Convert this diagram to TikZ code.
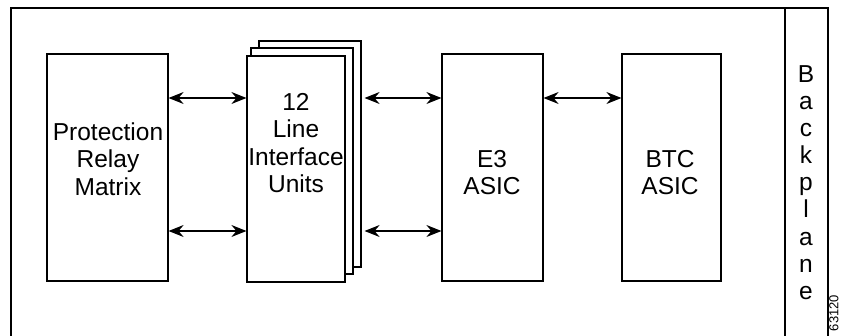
\documentclass[tikz,border=0pt]{standalone}
\usepackage{fontspec}
\setmainfont{Liberation Sans}
\usetikzlibrary{arrows.meta}
\begin{document}
\begin{tikzpicture}[x=1pt,y=-1pt,
  frame/.style={draw=black,line width=1.2pt},
  block/.style={frame,fill=white,rectangle,inner sep=0pt},
  lbl/.style={align=center,font=\fontsize{24.5}{27.4}\selectfont,inner sep=0pt},
  biarrow/.style={line width=1.2pt,{Stealth[length=15pt,width=12pt,inset=5pt]}-{Stealth[length=15pt,width=12pt,inset=5pt]}}]
\useasboundingbox (0,0) rectangle (841,335);

% enclosure with the backplane strip on the right
\draw[frame] (11,345) -- (11,8) -- (828,8) -- (828,345);
\draw[frame] (785,8) -- (785,345);

% functional blocks
\node[block,minimum width=121pt,minimum height=227pt] (prm) at (107.5,167.5) {};
\node[block,minimum width=102pt,minimum height=226pt] (liuc) at (310,154) {};
\node[block,minimum width=102pt,minimum height=226pt] (liub) at (302,161) {};
\node[block,minimum width=98pt,minimum height=226pt] (liu) at (296,169) {};
\node[block,minimum width=101pt,minimum height=227pt] (e3) at (492.5,167.5) {};
\node[block,minimum width=99pt,minimum height=227pt] (btc) at (671.5,167.5) {};

% block labels
\node[lbl] (prmtxt) at (108,159) {Protection\\Relay\\Matrix};
\node[lbl] (liutxt) at (296,143) {12\\Line\\Interface\\Units};
\node[lbl] (e3txt) at (492,172.5) {E3\\ASIC};
\node[lbl] (btctxt) at (670,172.5) {BTC\\ASIC};
\node[lbl,font=\fontsize{24.5}{27.1}\selectfont] (bp) at (806,182.5) {B\\a\\c\\k\\p\\l\\a\\n\\e};

% figure number
\node[rotate=90,font=\fontsize{13}{15}\selectfont,inner sep=0pt] (fignum) at (834,313) {63120};

% data paths
\coordinate (rowa) at (0,98);
\coordinate (rowb) at (0,231);
\draw[biarrow] (prm.east |- rowa) -- (liu.west |- rowa);
\draw[biarrow] (prm.east |- rowb) -- (liu.west |- rowb);
\draw[biarrow,shorten <=3pt] (liuc.east |- rowa) -- (e3.west |- rowa);
\draw[biarrow,shorten <=3pt] (liuc.east |- rowb) -- (e3.west |- rowb);
\draw[biarrow] (e3.east |- rowa) -- (btc.west |- rowa);
\end{tikzpicture}
\end{document}
